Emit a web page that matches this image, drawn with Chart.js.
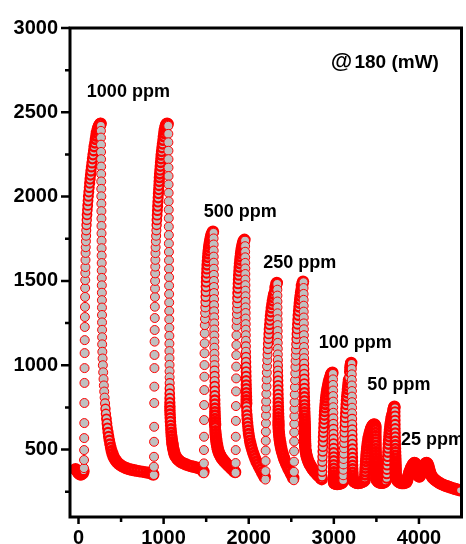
<!DOCTYPE html>
<html><head><meta charset="utf-8">
<script src="https://cdn.jsdelivr.net/npm/chart.js@4.4.1/dist/chart.umd.min.js"></script>
<style>html,body{margin:0;padding:0;background:#fff;}canvas{display:block;}</style>
</head><body>
<canvas id="c" width="466" height="544"></canvas>
<script>
// ---- data: [time (s), response], one array per exposure ----
const exp1000a = [[-35,384],[-22,376],[-10,368],[2,360],[14,354],[26,352],[38,354],[50,360],[60,372],
[64,390],[65,438],[66,497],[67,568],[68,657],[69,776],[70,895],[71,983],[72,1072],[73,1149],[74,1227],[75,1286],[76,1346],[77,1405],[78,1458],[79,1505],[80,1547],[81,1582],[82,1624],[83,1666],
[85,1700],[87,1735],[89,1768],[91,1800],[94,1832],[97,1862],[100,1892],[104,1920],[108,1948],[112,1975],[116,2002],[121,2028],[126,2054],[131,2080],[136,2104],[141,2128],[146,2152],[152,2176],[158,2200],[164,2224],[170,2248],[177,2272],[184,2296],[192,2318],[200,2340],[208,2360],[216,2378],[224,2394],[232,2407],[240,2418],[248,2426],[256,2431],[260,2433],
[263,2420],[263.5,2390],[264,2350],[264.5,2308],[265,2265],[265.5,2222],[266,2178],[266.5,2134],[267,2090],[267.5,2046],[268,2002],[268.5,1958],[269,1914],[269.5,1870],[270,1826],[270.5,1782],[271,1738],[271.5,1694],[272,1650],[272.5,1606],[273,1562],[273.5,1518],[274,1474],[274.5,1430],[275,1386],[275.5,1342],[276,1298],[276.5,1254],[277,1210],[277.5,1166],[278,1124],
[280,1080],[283,1040],[286,1000],[290,958],[294,918],[298,880],[302,844],[307,808],[312,774],[317,742],[322,712],[328,682],[334,655],[340,628],[347,602],[354,578],[362,555],[370,533],[379,512],[389,492],[400,474],
[412,458],[425,445],[440,434],[456,424],[474,415],[494,407],[516,400],[540,394],[566,389],[594,384],[624,380],[655,377],[688,374],[722,371],[757,368],[793,365],[828,362],[856,358],[878,352]];

const exp1000b = [[885,349],[886,398],[887,457],[888,546],[889,635],[890,776],[891,873],[892,983],[893,1061],[894,1140],[895,1209],[896,1280],[897,1347],[898,1405],[899,1455],[900,1500],[901,1545],[902,1585],[903,1625],[904,1665],
[906,1700],[909,1735],[912,1768],[915,1800],[918,1832],[921,1862],[924,1890],[927,1917],[930,1943],[933,1968],[936,1993],[939,2018],[942,2042],[945,2066],[948,2090],[951,2113],[954,2135],[957,2157],[961,2180],[965,2203],[969,2225],[973,2247],[977,2268],[982,2290],[987,2312],[993,2334],[999,2356],[1006,2376],[1013,2394],[1020,2410],[1027,2422],[1034,2430],[1041,2433],[1048,2430],
[1055,2420],[1055.5,2372],[1056,2322],[1056.5,2272],[1057,2222],[1057.5,2172],[1058,2122],[1058.5,2072],[1059,2022],[1059.5,1972],[1060,1922],[1060.5,1872],[1061,1822],[1061.5,1772],[1062,1722],[1062.5,1672],[1063,1622],[1063.5,1572],[1064,1522],[1064.5,1472],[1065,1422],[1065.5,1372],[1066,1322],[1066.5,1272],[1067,1222],[1067.5,1174],[1068,1128],[1068.5,1084],[1069,1042],[1069.5,1002],[1070,964],[1070.5,928],[1071,894],[1071.5,862],[1072,832],[1072.5,804],[1073,778],[1073.5,754],[1074,732],
[1076,710],[1078,688],[1080,666],[1083,644],[1086,622],[1089,601],[1093,581],[1097,562],[1101,544],[1106,527],[1111,511],[1117,497],[1123,484],[1130,472],
[1140,461],[1152,451],[1166,442],[1182,434],[1200,427],[1220,421],[1242,416],[1266,411],[1292,406],[1320,402],[1350,398],[1382,394],[1414,390],[1440,384],[1458,376],[1468,368]];

const exp500a = [[1472,359],[1473,418],[1474,497],[1475,576],[1476,675],[1477,764],[1478,853],[1479,932],[1480,1001],[1481,1071],[1482,1130],[1483,1189],[1484,1238],
[1486,1275],[1488,1310],[1490,1343],[1492,1375],[1494,1406],[1496,1436],[1498,1465],[1500,1493],[1502,1520],[1505,1546],[1508,1571],[1511,1595],[1515,1618],[1519,1640],[1523,1661],[1528,1681],[1533,1700],[1539,1718],[1545,1735],[1552,1752],[1559,1766],[1566,1778],[1573,1787],[1580,1792],
[1587,1785],[1587.5,1752],[1588,1716],[1588.5,1680],[1589,1644],[1589.5,1608],[1590,1572],[1590.5,1536],[1591,1500],[1591.5,1464],[1592,1428],[1592.5,1392],[1593,1356],[1593.5,1320],[1594,1284],[1594.5,1248],[1595,1212],[1595.5,1176],[1596,1140],[1596.5,1104],[1597,1068],[1597.5,1034],[1598,1000],[1598.5,968],[1599,936],[1599.5,906],[1600,876],[1600.5,848],[1601,820],[1601.5,794],[1602,770],[1602.5,746],[1603,724],[1603.5,703],[1604,683],[1604.5,664],[1605,646],[1605.5,630],
[1608,610],[1611,592],[1614,575],[1618,558],[1622,543],[1627,528],[1632,514],[1638,501],[1645,489],[1653,478],[1662,468],[1672,458],[1683,449],[1695,441],[1708,433],[1722,425],[1737,417],[1753,409],[1770,400],[1788,391],[1806,382],[1824,374],[1840,366]];

const exp500b = [[1845,362],[1846,420],[1847,497],[1848,576],[1849,670],[1850,758],[1851,845],[1852,922],[1853,992],[1854,1060],[1855,1120],[1856,1178],[1857,1230],
[1859,1268],[1861,1303],[1863,1336],[1865,1368],[1867,1399],[1869,1428],[1872,1456],[1875,1483],[1878,1509],[1881,1534],[1885,1558],[1889,1581],[1893,1603],[1898,1624],[1903,1644],[1908,1663],[1914,1681],[1920,1698],[1927,1713],[1934,1726],[1942,1738],[1950,1744],
[1957,1738],[1957.5,1706],[1958,1673],[1958.5,1640],[1959,1607],[1959.5,1574],[1960,1541],[1960.5,1508],[1961,1475],[1961.5,1442],[1962,1409],[1962.5,1376],[1963,1343],[1963.5,1310],[1964,1277],[1964.5,1244],[1965,1211],[1965.5,1178],[1966,1145],[1966.5,1112],[1967,1080],[1967.5,1049],[1968,1019],[1968.5,990],[1969,962],[1969.5,935],[1970,909],[1970.5,884],[1971,860],[1971.5,837],[1972,815],[1972.5,794],[1973,774],[1973.5,755],
[1976,730],[1979,705],[1982,682],[1986,659],[1990,637],[1995,615],[2000,594],[2006,574],[2013,554],[2021,535],[2030,517],[2040,499],[2051,481],[2063,464],[2076,447],[2090,430],[2105,414],[2121,398],[2138,382],[2155,366],[2172,350],[2188,336]];

const exp250a = [[2196,322],[2197,372],[2198,432],[2199,494],[2200,552],[2201,606],[2202,656],[2203,702],[2204,745],[2205,785],
[2207,830],[2209,874],[2211,916],[2213,956],[2215,994],[2218,1030],[2221,1064],[2224,1096],[2227,1127],[2231,1157],[2235,1186],[2239,1214],[2244,1241],[2249,1267],[2254,1292],[2260,1316],[2266,1339],[2273,1361],[2280,1382],[2288,1402],[2296,1421],[2305,1439],[2314,1462],[2322,1478],[2330,1488],
[2336,1482],[2336.5,1448],[2337,1413],[2337.5,1378],[2338,1343],[2338.5,1308],[2339,1273],[2339.5,1238],[2340,1203],[2340.5,1168],[2341,1133],[2341.5,1098],[2342,1064],[2342.5,1031],[2343,999],[2343.5,968],[2344,938],[2344.5,909],[2345,881],[2345.5,854],[2346,828],[2346.5,803],[2347,779],[2347.5,756],[2348,734],[2348.5,713],[2349,693],[2349.5,674],[2350,656],[2350.5,639],[2351,623],
[2354,605],[2357,588],[2361,571],[2365,555],[2370,539],[2375,524],[2381,509],[2388,494],[2396,479],[2405,464],[2415,449],[2426,434],[2438,419],[2451,404],[2465,389],[2480,374],[2495,359],[2510,344],[2524,330]];

const exp250b = [[2530,318],[2531,368],[2532,428],[2533,490],[2534,548],[2535,602],[2536,652],[2537,698],[2538,741],[2539,781],
[2541,826],[2543,870],[2545,912],[2547,952],[2549,990],[2551,1026],[2553,1060],[2556,1093],[2559,1125],[2562,1156],[2565,1186],[2568,1215],[2572,1243],[2576,1270],[2580,1296],[2585,1321],[2590,1345],[2595,1368],[2600,1390],[2606,1411],[2612,1431],[2618,1450],[2625,1470],[2632,1486],[2638,1496],
[2644,1492],[2644.5,1458],[2645,1423],[2645.5,1388],[2646,1353],[2646.5,1318],[2647,1283],[2647.5,1248],[2648,1213],[2648.5,1178],[2649,1143],[2649.5,1108],[2650,1074],[2650.5,1041],[2651,1009],[2651.5,978],[2652,948],[2652.5,919],[2653,891],[2653.5,864],[2654,838],[2654.5,813],[2655,789],[2655.5,766],[2656,744],[2656.5,723],[2657,703],[2657.5,684],[2658,666],[2658.5,649],[2659,633],[2659.5,617],[2660,602],[2660.5,588],[2661,574],[2661.5,561],[2662,549],[2662.5,537],[2663,526],[2663.5,516],
[2667,500],[2671,486],[2676,472],[2682,459],[2689,447],[2697,435],[2706,424],[2716,413],[2727,403],[2739,393],[2752,383],[2766,374],[2781,365],[2797,356],[2813,347],[2829,339],[2845,331],[2858,324]];

const exp100a = [[2862,340],[2863,368],[2864,398],[2865,428],[2867,458],[2869,488],[2871,517],[2873,546],[2875,574],[2877,601],[2880,628],[2883,654],[2886,679],[2889,703],[2892,726],[2896,748],[2900,769],[2904,789],[2909,808],[2914,826],[2919,843],[2925,859],[2931,874],[2937,888],[2943,901],[2949,913],[2956,926],[2963,938],[2970,947],[2977,953],[2984,956],
[2990,948],[2990.5,916],[2991,883],[2991.5,850],[2992,817],[2992.5,784],[2993,751],[2993.5,718],[2994,685],[2994.5,653],[2995,622],[2995.5,592],[2996,563],[2996.5,535],[2997,508],[2997.5,482],[2998,457],[2998.5,433],[2999,410],[2999.5,388],[3000,367],[3000.5,348],[3001,331],[3001.5,316],[3002,303],
[3008,300],[3016,298],[3025,297],[3035,296],[3046,296],[3058,297],[3070,298],[3082,300],[3094,303],[3104,308]];

const exp100b = [[3110,318],[3111,348],[3112,380],[3113,412],[3115,444],[3117,476],[3119,508],[3121,540],[3123,571],[3125,602],[3128,632],[3131,661],[3134,689],[3137,716],[3140,742],[3144,767],[3148,791],[3152,814],[3157,836],[3162,857],[3167,877],[3172,896],[3177,914],[3182,931],[3186,962],[3192,985],[3198,1003],[3204,1014],
[3210,1008],[3210.5,978],[3211,946],[3211.5,913],[3212,880],[3212.5,847],[3213,814],[3213.5,781],[3214,748],[3214.5,715],[3215,682],[3215.5,650],[3216,619],[3216.5,589],[3217,560],[3217.5,532],[3218,505],[3218.5,479],[3219,454],[3219.5,430],[3220,407],[3220.5,385],[3221,364],[3221.5,345],[3222,328],
[3228,318],[3236,312],[3245,308],[3255,305],[3266,303],[3278,302],[3291,302],[3305,303],[3320,305],[3335,308],[3350,312],[3362,318]];

const exp50a = [[3364,330],[3366,350],[3368,370],[3370,390],[3373,410],[3376,430],[3379,449],[3382,468],[3386,486],[3390,504],[3394,521],[3399,538],[3404,554],[3409,569],[3415,583],[3421,596],[3428,608],[3435,619],[3442,629],[3450,637],[3458,643],[3467,648],[3476,649],[3484,645],
[3490,635],[3490.5,618],[3491,600],[3491.5,581],[3492,562],[3492.5,543],[3493,524],[3493.5,505],[3494,486],[3494.5,468],[3495,450],[3495.5,433],[3496,417],[3496.5,402],[3497,388],[3497.5,375],[3498,363],[3498.5,352],[3499,342],[3499.5,333],[3500,325],
[3506,318],[3514,313],[3523,309],[3533,306],[3544,304],[3556,303],[3569,303],[3582,304],[3595,307],[3607,312]];

const exp50b = [[3620,330],[3622,356],[3624,382],[3626,408],[3628,434],[3631,459],[3634,484],[3637,508],[3640,532],[3644,555],[3648,577],[3652,598],[3657,618],[3662,637],[3667,655],[3673,672],[3679,688],[3685,702],[3692,716],[3699,734],[3706,748],[3712,754],
[3718,748],[3718.5,724],[3719,699],[3719.5,674],[3720,649],[3720.5,624],[3721,599],[3721.5,575],[3722,551],[3722.5,528],[3723,506],[3723.5,485],[3724,465],[3724.5,446],[3725,428],[3725.5,411],[3726,395],[3726.5,380],[3727,366],[3727.5,353],[3728,341],
[3733,331],[3740,323],[3748,316],[3757,311],[3767,307],[3778,304],[3790,302],[3803,301],[3816,301],[3829,302],[3842,304],[3853,307]];

const exp25a = [[3858,314],[3864,324],[3870,335],[3876,346],[3883,357],[3890,368],[3898,378],[3906,388],[3914,397],[3922,405],[3930,412],[3938,417],[3946,420],[3954,419],[3961,414],[3967,405],[3972,394],[3977,382],[3982,370],[3987,359],[3993,349],[3999,341]];

const exp25b = [[4006,340],[4013,346],[4020,354],[4027,363],[4034,372],[4041,381],[4048,390],[4055,398],[4062,405],[4069,411],[4076,416],[4083,419],[4090,420],[4097,418],[4103,412],[4109,403],[4115,392],[4121,380],[4128,368],[4136,357],[4145,347],
[4155,338],[4168,330],[4182,323],[4197,317],[4213,311],[4230,305],[4248,300],[4267,295],[4287,290],[4308,286],[4330,282],[4353,278],[4377,274],[4402,270],[4428,266],[4455,262],[4482,258]];

const xTickValues = [0, 1000, 2000, 3000, 4000];
const xMinorTicks = [500, 1500, 2500, 3500];
const yTickValues = [500, 1000, 1500, 2000, 2500, 3000];
const yMinorTicks = [250, 750, 1250, 1750, 2250, 2750];

const noteTexts = ['1000 ppm', '500 ppm', '250 ppm', '100 ppm', '50 ppm', '25 ppm', '@', '180 (mW)'];
// anchor (left, baseline) of each note, in data units
const noteX = [98, 1472, 2171, 2823, 3394, 3790, 2963, 3242];
const noteY = [2591, 1879, 1577, 1102, 853, 527, 2763, 2763];

// ---- build ----
const series = [exp1000a, exp1000b, exp500a, exp500b, exp250a, exp250b, exp100a, exp100b, exp50a, exp50b, exp25a, exp25b];
const points = [];
series.forEach(s => s.forEach(p => points.push({x: p[0], y: p[1]})));

const FONT = '"Liberation Sans", Arial, sans-serif';
const noteFont = ['bold 18px ', 'bold 18px ', 'bold 18px ', 'bold 18px ', 'bold 18px ', 'bold 18px ', 'bold 22px ', 'bold 19px '];

// pixel distance to the neighbouring marker: where markers pile up, their red rims merge
function pileGap(ctx) {
  const d = ctx.dataset.data, i = ctx.dataIndex, sx = ctx.chart.scales.x, sy = ctx.chart.scales.y;
  const j = i < d.length - 1 ? i + 1 : i - 1;
  return Math.hypot(sx.getPixelForValue(d[j].x) - sx.getPixelForValue(d[i].x), sy.getPixelForValue(d[j].y) - sy.getPixelForValue(d[i].y));
}
function rim(ctx) {
  if (ctx.type !== 'data') return 1;
  const g = pileGap(ctx);
  return g >= 5.5 ? 1 : Math.min(3.4, 1 + (5.5 - g) * 0.9);
}

const decor = {
  id: 'decor',
  afterDatasetsDraw(chart) {
    const {ctx, chartArea: a, scales: {x, y}} = chart;
    ctx.save();
    ctx.strokeStyle = '#000';
    ctx.lineWidth = 2.5;
    ctx.beginPath();
    xTickValues.forEach(v => { const p = x.getPixelForValue(v); ctx.moveTo(p, a.bottom); ctx.lineTo(p, a.bottom + 7); });
    xMinorTicks.forEach(v => { const p = x.getPixelForValue(v); ctx.moveTo(p, a.bottom); ctx.lineTo(p, a.bottom + 5); });
    yTickValues.forEach(v => { const p = y.getPixelForValue(v); ctx.moveTo(a.left, p); ctx.lineTo(a.left - 9, p); });
    yMinorTicks.forEach(v => { const p = y.getPixelForValue(v); ctx.moveTo(a.left, p); ctx.lineTo(a.left - 5, p); });
    ctx.stroke();
    ctx.lineWidth = 3;
    ctx.strokeRect(a.left, a.top, a.right - a.left, a.bottom - a.top);
    ctx.fillStyle = '#000';
    ctx.textAlign = 'left';
    ctx.textBaseline = 'alphabetic';
    noteTexts.forEach((t, i) => {
      ctx.font = noteFont[i] + FONT;
      ctx.fillText(t, x.getPixelForValue(noteX[i]), y.getPixelForValue(noteY[i]));
    });
    ctx.restore();
  }
};

new Chart(document.getElementById('c'), {
  type: 'scatter',
  data: { datasets: [{
    data: points,
    showLine: false,
    pointRadius: 4.5,
    pointHoverRadius: 4.5,
    pointBorderWidth: rim,
    pointBackgroundColor: '#c0c0c0',
    pointBorderColor: '#ff0000'
  }]},
  options: {
    responsive: false,
    animation: false,
    devicePixelRatio: 1,
    events: [],
    layout: { padding: { top: 28, right: 1, left: 0, bottom: 0 } },
    plugins: { legend: { display: false }, tooltip: { enabled: false } },
    scales: {
      x: {
        type: 'linear', min: -100, max: 4500,
        afterBuildTicks: s => { s.ticks = xTickValues.map(v => ({value: v})); },
        afterFit: s => { s.height = 27; },
        grid: { display: false, drawTicks: true, tickLength: 7 },
        border: { display: false },
        ticks: { color: '#000', font: { family: FONT, size: 20, weight: 'bold' }, padding: 2, maxRotation: 0, autoSkip: false, callback: v => String(v) }
      },
      y: {
        type: 'linear', min: 100, max: 3000,
        afterBuildTicks: s => { s.ticks = yTickValues.map(v => ({value: v})); },
        afterFit: s => { s.width = 70; },
        grid: { display: false, drawTicks: true, tickLength: 9 },
        border: { display: false },
        ticks: { color: '#000', font: { family: FONT, size: 20, weight: 'bold' }, padding: 3, callback: v => String(v) }
      }
    }
  },
  plugins: [decor]
});
</script>
</body></html>
